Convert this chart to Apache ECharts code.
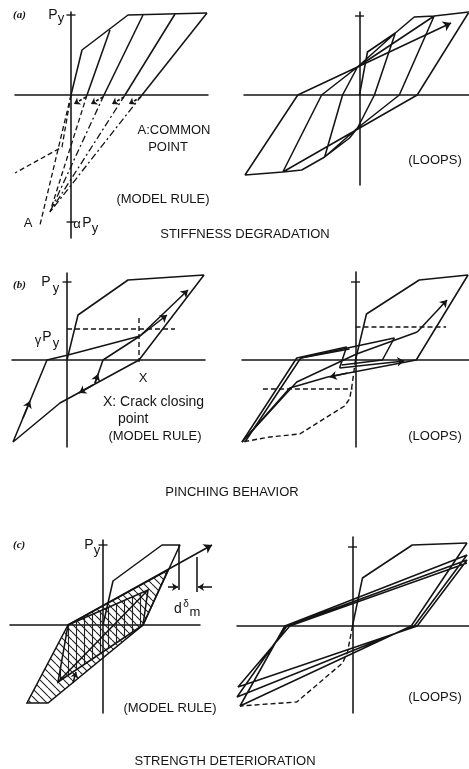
<!DOCTYPE html>
<html><head><meta charset="utf-8">
<script src="https://cdn.jsdelivr.net/npm/echarts@6/dist/echarts.min.js"></script>
<style>html,body{margin:0;padding:0;background:#fff}#c{width:469px;height:769px}</style>
</head><body><div id="c"></div>
<script>
// ---------- DATA (values relative to each panel's origin; x = displacement, y = force) ----------
// (a) stiffness degradation — model rule
const aRuleEnvelope = [[0,0],[11,45],[57,80],[136,82]];
const aRuleUnloading = [[[39,65],[16,0]],[[72,80],[33,0]],[[104,81],[54,0]],[[136,82],[71,0]]];
const aRuleCommonPoint = [-21,-117];
const aRuleNegEnvelope = [[0,0],[-9,-52],[-56,-78]];
const aRuleElasticExt = [[0,0],[-31,-130]];
const aRuleReloadArrows = [[[15,-2],[3,-9]],[[32,-2],[20,-9]],[[53,-2],[41,-9]],[[70,-2],[58,-9]]];
const aRuleTicks = [80,-127];
// (a) loops
const aLoopPath = [[0,0],[8,43],[36,62],[15,0],[-2,-33],[-10,-43],[-35,-62],[-17,0],[-2,28],[36,62],[55,78],[75,79],[40,0],[-2,-33],[-35,-62],[-58,-75],[-77,-77],[-38,0],[-2,28],[75,79],[110,83],[58,0],[-77,-77],[-115,-80],[-62,0],[-2,28]];
const aLoopArrow = [[-2,28],[92,72]];
const aLoopTicks = [79];
// (b) pinching — model rule
const bRulePath = [[0,0],[11,45],[61,80],[137,85],[72,0],[-7,-43],[-54,-82],[-20,0],[1,5],[73,24]];
const bRulePartial = [[28,-23],[36,0],[73,24]];
const bRuleArrows = [[[73,24],[121,70]],[[73,24],[100,45]],[[26,-25],[12,-33]],[[-44,-58],[-37,-41]],[[28,-23],[31,-14]]];
const bRuleGamma = [[0,31],[108,31]];
const bRuleCrack = [[72,42],[72,-2]];
const bRuleTicks = [78];
// (b) loops
const bLoopEnvelope = [[0,0],[11,46],[64,80],[113,85],[61,0],[-28,-17],[-66,-28],[-114,-82]];
const bLoopCycleA = [[-114,-82],[-59,2],[-9,13],[-16,-8]];
const bLoopCycleB = [[-111,-82],[-55,2],[-6,11]];
const bLoopInner = [[-55,2],[39,22],[27,0],[-14,-5]];
const bLoopReload = [[-114,-82],[-59,-22],[1,6],[62,28]];
const bLoopArrows = [[[62,28],[92,60]],[[-16,-8],[49,-1]],[[-8,-13],[-26,-17]]];
const bLoopDashUpper = [[0,33],[91,33]];
const bLoopDashLower = [[-93,-29],[-3,-29]];
const bLoopVirginNeg = [[0,0],[-4,-29],[-6,-39],[-11,-46],[-56,-74],[-86,-77],[-114,-82]];
const bLoopTicks = [78];
// (c) strength deterioration — model rule
const cRuleEnvelope = [[0,0],[10,44],[59,80],[77,80],[40,0]];
const cRuleReload = [[-35,0],[109,80]];
const cRuleOuter = [[-35,0],[-76,-78],[-55,-78],[40,0],[65,55]];
const cRuleInner = [[-35,0],[45,35],[40,0],[-45,-57]];
const cRuleDiag = [[-45,-57],[45,35]];
const cRuleSmallArrow = [[-30,-58],[-27,-47]];
const cRuleDm = [[[76,80],[76,35]],[[94,68],[94,33]]];
const cRuleDmArrows = [[[65,38],[75,38]],[[109,38],[95,38]]];
const cRuleTicks = [80];
// (c) loops
const cLoopEnvelope = [[0,0],[10,48],[60,81],[115,83]];
const cLoopCycles = [[115,83],[59,0],[-113,-80],[-68,0],[115,71],[62,0],[-116,-71],[-66,0],[115,66],[65,0],[-115,-61],[-63,0],[115,63]];
const cLoopVirginNeg = [[0,0],[-5,-26],[-10,-37],[-56,-76],[-113,-80]];
const cLoopTicks = [79];

// ---------- LAYOUT ----------
const panels = [
  {ox:71,  oy:95,  x:[-56,137],  y:[-143,83]},
  {ox:360, oy:95,  x:[-116,110], y:[-90,83]},
  {ox:67,  oy:360, x:[-55,138],  y:[-87,87]},
  {ox:356, oy:360, x:[-114,114], y:[-87,88]},
  {ox:103, oy:625, x:[-93,97],   y:[-88,85]},
  {ox:353, oy:626, x:[-116,117], y:[-87,89]}
];
const INK = '#141414';
const W = 1.55;
const DASH = [5,3];
const DASHDOT = [7,3,2,3];

function line(pi, pts, dash, w) {
  return {type:'line', xAxisIndex:pi, yAxisIndex:pi, data:pts, symbol:'none', clip:false, silent:true,
    lineStyle:{color:INK, width:w||W, type:dash||'solid'}, z:3};
}
function arrows(pi, segs, size, dash) {
  return {type:'lines', coordinateSystem:'cartesian2d', xAxisIndex:pi, yAxisIndex:pi, clip:false, silent:true,
    symbol:['none','arrow'], symbolSize:size||7,
    lineStyle:{color:INK, width:W, opacity:1, type:dash||'solid'},
    data:segs.map(s=>({coords:s})), z:4};
}
function ticks(pi, vals) {
  return {type:'scatter', xAxisIndex:pi, yAxisIndex:pi, symbol:'rect', symbolSize:[9,1.7], silent:true,
    itemStyle:{color:INK}, data:vals.map(v=>[0,v]), z:5};
}
function makePattern(step, diag, vert) {
  const c = document.createElement('canvas'); c.width = step; c.height = step;
  const g = c.getContext('2d'); g.strokeStyle = '#222'; g.lineWidth = 1.1; g.beginPath();
  if (diag) { for (const k of [-1,0,1]) { g.moveTo(k*step,0); g.lineTo(k*step+step,step); } }
  if (vert) { g.moveTo(step/2+0.5,0); g.lineTo(step/2+0.5,step); }
  g.stroke(); return c;
}
const hatchDiag = makePattern(8, true, false);
const hatchVert = makePattern(8, false, true);
function hatched(pi, poly, pattern) {
  return {type:'custom', xAxisIndex:pi, yAxisIndex:pi, clip:false, silent:true, z:2,
    data:[[0,0]],
    renderItem:(params, api) => ({type:'polygon',
      shape:{points: poly.map(p => api.coord(p))},
      style:{fill:{image:pattern, repeat:'repeat'}, stroke:INK, lineWidth:W}})};
}

const series = [];
// (a) model rule
series.push(line(0, aRuleEnvelope));
aRuleUnloading.forEach((u,i) => {
  series.push(line(0, u));
  series.push(line(0, [u[1], aRuleCommonPoint], i===0 ? DASH : DASHDOT, 1.3));
});
series.push(line(0, aRuleNegEnvelope, DASH, 1.3));
series.push(line(0, aRuleElasticExt, DASH, 1.3));
series.push(arrows(0, aRuleReloadArrows, 6, [3,2]));
series.push(ticks(0, aRuleTicks));
// (a) loops
series.push(line(1, aLoopPath));
series.push(arrows(1, [aLoopArrow], 8));
series.push(ticks(1, aLoopTicks));
// (b) model rule
series.push(line(2, bRulePath));
series.push(line(2, bRulePartial));
series.push(arrows(2, bRuleArrows, 7));
series.push(line(2, bRuleGamma, DASH, 1.4));
series.push(line(2, bRuleCrack, DASH, 1.4));
series.push(ticks(2, bRuleTicks));
// (b) loops
series.push(line(3, bLoopEnvelope));
series.push(line(3, bLoopCycleA));
series.push(line(3, bLoopCycleB));
series.push(line(3, bLoopInner));
series.push(line(3, bLoopReload));
series.push(arrows(3, bLoopArrows, 7));
series.push(line(3, bLoopDashUpper, DASH, 1.4));
series.push(line(3, bLoopDashLower, DASH, 1.4));
series.push(line(3, bLoopVirginNeg, DASH, 1.4));
series.push(ticks(3, bLoopTicks));
// (c) model rule
series.push(hatched(4, cRuleOuter, hatchDiag));
series.push(hatched(4, cRuleInner, hatchVert));
series.push(line(4, cRuleEnvelope));
series.push(arrows(4, [cRuleReload], 8));
series.push(line(4, cRuleDiag));
series.push(arrows(4, [cRuleSmallArrow], 6));
cRuleDm.forEach(s => series.push(line(4, s)));
series.push(arrows(4, cRuleDmArrows, 6));
series.push(ticks(4, cRuleTicks));
// (c) loops
series.push(line(5, cLoopEnvelope));
series.push(line(5, cLoopCycles));
series.push(line(5, cLoopVirginNeg, DASH, 1.4));
series.push(ticks(5, cLoopTicks));

// ---------- TEXT ----------
const F = '"Liberation Sans", Arial, sans-serif';
function txt(text, x, y, size, align) {
  return {type:'text', x:x, y:y, silent:true, z:10, style:{text:text, fill:INK,
    font: (size||13)+'px '+F, align:align||'center', verticalAlign:'middle',
    textAlign:align||'center', textVerticalAlign:'middle'}};
}
function lab(text, x, y) {
  return {type:'text', x:x, y:y, silent:true, z:10, style:{text:text, fill:INK,
    font:'italic bold 11px "Liberation Serif", serif', align:'left', verticalAlign:'middle', textAlign:'left', textVerticalAlign:'middle'}};
}
const graphic = [
  lab('(a)', 13, 15), txt('P', 53, 15, 14), txt('y', 61, 18, 13),
  txt('A:COMMON', 174, 130), txt('POINT', 168, 147), txt('(MODEL RULE)', 163, 199),
  txt('A', 28, 223), txt('α', 77, 224, 13), txt('P', 87, 223, 14), txt('y', 95, 228, 13),
  txt('STIFFNESS DEGRADATION', 245, 234), txt('(LOOPS)', 435, 160),
  lab('(b)', 13, 285), txt('P', 46, 282, 14), txt('y', 56, 288, 13),
  txt('γ', 38, 340, 13), txt('P', 47, 337, 14), txt('y', 56, 343, 13),
  txt('X', 143, 378), txt('X: Crack closing', 103, 402, 14, 'left'), txt('point', 118, 419, 14, 'left'),
  txt('(MODEL RULE)', 155, 436), txt('(LOOPS)', 435, 436), txt('PINCHING BEHAVIOR', 232, 492),
  lab('(c)', 13, 545), txt('P', 89, 545, 14), txt('y', 97, 550, 13),
  txt('d', 178, 609, 14), txt('δ', 186, 604, 10), txt('m', 195, 612, 13),
  txt('(MODEL RULE)', 170, 708), txt('(LOOPS)', 435, 697), txt('STRENGTH DETERIORATION', 225, 761)
];

const axisCommon = {type:'value', axisTick:{show:false}, axisLabel:{show:false}, splitLine:{show:false},
  axisLine:{show:true, onZero:true, lineStyle:{color:INK, width:W}}};
const option = {
  backgroundColor:'#fff', animation:false,
  grid: panels.map(p => ({left:p.ox+p.x[0], top:p.oy-p.y[1], width:p.x[1]-p.x[0], height:p.y[1]-p.y[0], containLabel:false})),
  xAxis: panels.map((p,i) => Object.assign({}, axisCommon, {gridIndex:i, min:p.x[0], max:p.x[1]})),
  yAxis: panels.map((p,i) => Object.assign({}, axisCommon, {gridIndex:i, min:p.y[0], max:p.y[1]})),
  series: series,
  graphic: graphic
};
const chart = echarts.init(document.getElementById('c'), null, {renderer:'canvas'});
chart.setOption(option);
</script></body></html>
